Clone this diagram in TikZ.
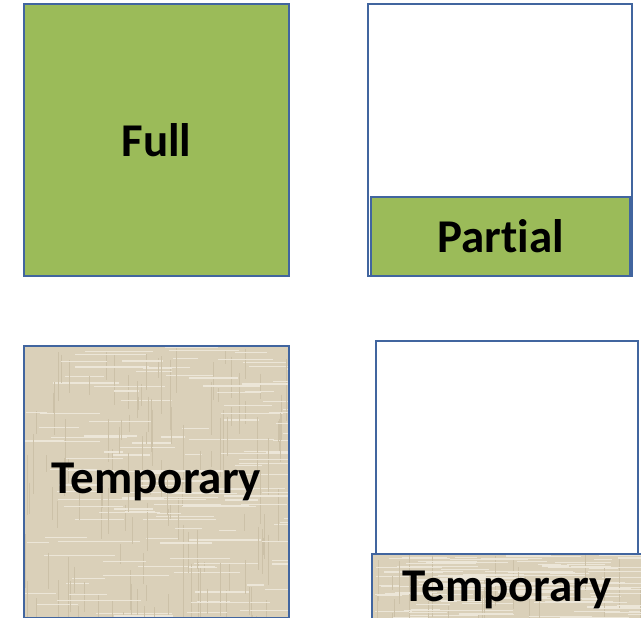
\documentclass[tikz,border=0pt]{standalone}
\usepackage{fontspec}
\setmainfont{Carlito}[Ligatures=NoCommon]
\usetikzlibrary{calc}
\definecolor{fillgreen}{HTML}{9BBB59}
\definecolor{boxblue}{HTML}{41659F}
\definecolor{linenbase}{HTML}{DAD0B9}
\definecolor{linenlite}{HTML}{ECE6D8}
\definecolor{linendark}{HTML}{CCC1A8}

\begin{document}
\begin{tikzpicture}[x=1pt,y=-1pt,
  box/.style={draw=boxblue,line width=2pt,minimum width=#1,inner sep=0pt,
              font=\fontsize{47}{50}\selectfont\bfseries},
  full/.style={fill=fillgreen},
  empty/.style={fill=white},
  linen/.style={fill=linenbase,path picture={
      \pgfmathsetseed{#1}
      \foreach \k in {1,...,140}{
        \draw[linenlite,line width=1.2pt]
          ($(path picture bounding box.north west)!rnd!(path picture bounding box.south west)$)
          ++(rnd*270,0) -- ++(15+rnd*70,0);
        \draw[linendark,line width=0.8pt]
          ($(path picture bounding box.north west)!rnd!(path picture bounding box.north east)$)
          ++(0,rnd*280) -- ++(0,10+rnd*50);
      }}}]
\useasboundingbox (0,0) rectangle (641,618);

% ---------------- top row: full and partial ----------------
\node[box=265pt,full,minimum height=272pt] (full) at (156.5,140) {Full};
\node[box=264pt,empty,minimum height=272pt] (partbox) at (500,140) {};
\node[box=259pt,full,minimum height=79pt] (partial) at (500.5,236.5) {Partial};

% ---------------- bottom row: temporary ----------------
\node[box=265pt,linen=7,minimum height=272pt] (temp) at (156.5,482) {Temporary};
\node[box=262pt,empty,minimum height=213pt] (tempbox) at (507,447.5) {};
\node[box=270pt,linen=11,minimum height=72pt] (tempbar) at (507,590) {Temporary};

\end{tikzpicture}
\end{document}
